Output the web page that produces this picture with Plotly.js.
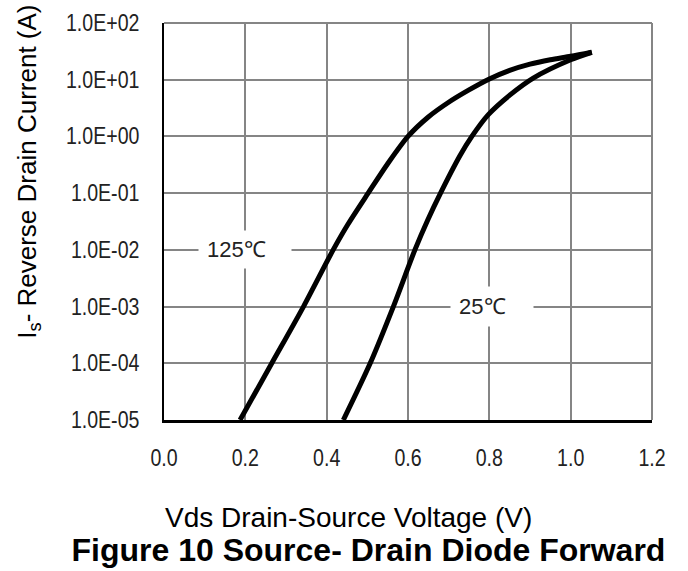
<!DOCTYPE html>
<html>
<head>
<meta charset="utf-8">
<script src="https://cdn.plot.ly/plotly-3.0.1.min.js"></script>
<style>html,body{margin:0;padding:0;background:#fff;}#chart{width:688px;height:571px;}</style>
</head>
<body>
<div id="chart"></div>
<script>
// Data
var vds125 = [0.187, 0.265, 0.343, 0.416, 0.452, 0.502, 0.55, 0.60, 0.65, 0.70, 0.75, 0.80, 0.85, 0.90, 0.95, 1.00, 1.052];
var is125  = [1e-5, 1e-4, 1e-3, 1e-2, 0.028, 0.10, 0.33, 1.0, 2.2, 4.0, 6.6, 10.3, 14.6, 18.8, 22.5, 25.9, 30.5];
var vds25  = [0.441, 0.507, 0.564, 0.617, 0.648, 0.680, 0.728, 0.757, 0.797, 0.851, 0.908, 1.000, 1.052];
var is25   = [1e-5, 1e-4, 1e-3, 1e-2, 0.033, 0.10, 0.46, 1.0, 2.4, 5.4, 10.7, 22.5, 30.5];
var yTickVals = [1e-5, 1e-4, 1e-3, 1e-2, 1e-1, 1e0, 1e1, 1e2];
var yTickText = ["1.0E-05", "1.0E-04", "1.0E-03", "1.0E-02", "1.0E-01", "1.0E+00", "1.0E+01", "1.0E+02"];
var xTickVals = [0, 0.2, 0.4, 0.6, 0.8, 1.0, 1.2];
var xTickText = ["0.0", "0.2", "0.4", "0.6", "0.8", "1.0", "1.2"];
var curveLabels = ["125℃", "25℃"];

var sans = "Liberation Sans, Arial, sans-serif";

var lineStyle = {color: "#000", width: 5, shape: "spline", smoothing: 0.8};
var traces = [
  {x: vds125, y: is125, mode: "lines", line: lineStyle, hoverinfo: "skip", name: curveLabels[0]},
  {x: vds25, y: is25, mode: "lines", line: lineStyle, hoverinfo: "skip", name: curveLabels[1]}
];

var layout = {
  width: 688, height: 571,
  margin: {l: 164, r: 36, t: 23, b: 151},
  paper_bgcolor: "#fff", plot_bgcolor: "#fff",
  showlegend: false,
  title: {
    text: "<b>Figure 10 Source- Drain Diode Forward</b>",
    font: {family: sans, size: 32, color: "#000"},
    xref: "paper", x: 0.419, xanchor: "center",
    yref: "container", y: 0.038, yanchor: "middle"
  },
  xaxis: {
    range: [0, 1.2], tickvals: xTickVals, ticktext: xTickText,
    showgrid: true, gridcolor: "#858585", gridwidth: 2,
    showline: true, linecolor: "#000", linewidth: 3,
    zeroline: false, ticks: "", ticklabelstandoff: 15,
    tickfont: {family: sans, size: 23, color: "#222"}
  },
  yaxis: {
    type: "log", range: [-5, 2], tickvals: yTickVals, ticktext: yTickText,
    showgrid: true, gridcolor: "#858585", gridwidth: 2,
    showline: true, linecolor: "#000", linewidth: 2,
    zeroline: false, ticks: "", ticklabelstandoff: 18,
    tickfont: {family: sans, size: 23, color: "#222"}
  },
  shapes: [
    {type: "line", xref: "paper", yref: "paper", x0: 0, x1: 1, y0: 1, y1: 1, line: {color: "#858585", width: 2}},
    {type: "line", xref: "paper", yref: "paper", x0: 1, x1: 1, y0: 0, y1: 1, line: {color: "#858585", width: 2}}
  ],
  annotations: [
    {x: 0.2, y: -2, xref: "x", yref: "y", text: "\u00a0" + curveLabels[0], showarrow: false,
     xanchor: "center", yanchor: "middle", width: 88, height: 33, align: "left",
     bgcolor: "#fff", borderpad: 2, font: {family: sans, size: 22, color: "#222"}},
    {x: 0.8, y: -3, xref: "x", yref: "y", xshift: 3, text: "\u00a0" + curveLabels[1], showarrow: false,
     xanchor: "center", yanchor: "middle", width: 78, height: 35, align: "left",
     bgcolor: "#fff", borderpad: 2, font: {family: sans, size: 22, color: "#222"}},
    {xref: "paper", yref: "paper", x: -0.277, y: 0.625, xanchor: "center", yanchor: "middle",
     textangle: -90, showarrow: false,
     text: "I<sub>s</sub>- Reverse Drain Current (A)",
     font: {family: sans, size: 26, color: "#000"}},
    {xref: "paper", yref: "paper", x: 0.379, y: -0.245, xanchor: "center", yanchor: "middle",
     showarrow: false, text: "Vds Drain-Source Voltage (V)",
     font: {family: sans, size: 28, color: "#000"}}
  ]
};

Plotly.newPlot("chart", traces, layout, {displayModeBar: false, staticPlot: true}).then(function (gd) {
  // The reference uses a narrow face for tick labels: compress glyphs horizontally
  var texts = gd.querySelectorAll(".xtick text, .ytick text");
  for (var i = 0; i < texts.length; i++) {
    var t = texts[i];
    var w = t.getComputedTextLength();
    if (w > 0) {
      t.setAttribute("textLength", (w * 0.85).toFixed(1));
      t.setAttribute("lengthAdjust", "spacingAndGlyphs");
    }
  }
});
</script>
</body>
</html>
